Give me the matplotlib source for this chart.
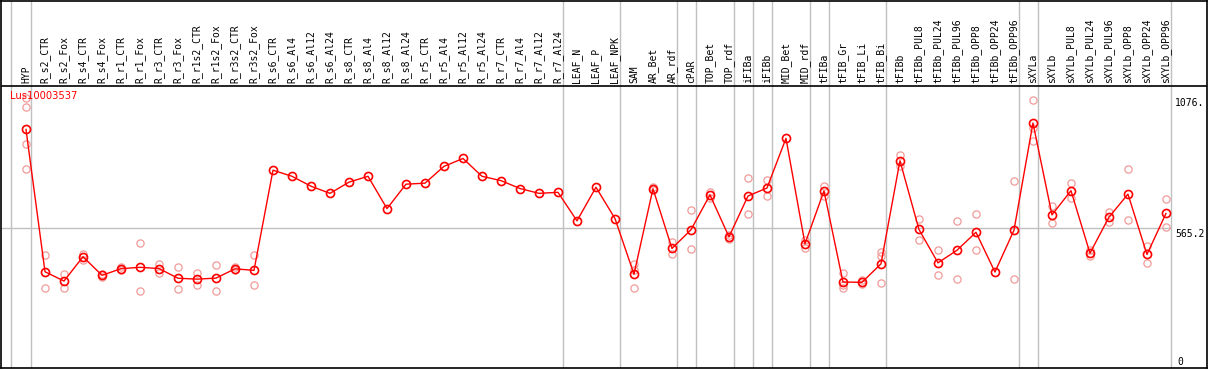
import numpy as np
import matplotlib
matplotlib.use("Agg")
import matplotlib.pyplot as plt
from matplotlib.transforms import blended_transform_factory

# ---------------- data ----------------
categories = [
    "HYP", "R_s2_CTR", "R_s2_Fox", "R_s4_CTR", "R_s4_Fox", "R_r1_CTR", "R_r1_Fox",
    "R_r3_CTR", "R_r3_Fox", "R_r1s2_CTR", "R_r1s2_Fox", "R_r3s2_CTR", "R_r3s2_Fox",
    "R_s6_CTR", "R_s6_Al4", "R_s6_Al12", "R_s6_Al24", "R_s8_CTR", "R_s8_Al4",
    "R_s8_Al12", "R_s8_Al24", "R_r5_CTR", "R_r5_Al4", "R_r5_Al12", "R_r5_Al24",
    "R_r7_CTR", "R_r7_Al4", "R_r7_Al12", "R_r7_Al24", "LEAF_N", "LEAF_P", "LEAF_NPK",
    "SAM", "AR_Bet", "AR_rdf", "cPAR", "TOP_Bet", "TOP_rdf", "iFIBa", "iFIBb",
    "MID_Bet", "MID_rdf", "tFIBa", "tFIB_Gr", "tFIB_Li", "tFIB_Bi", "tFIBb",
    "tFIBb_PUL8", "tFIBb_PUL24", "tFIBb_PUL96", "tFIBb_OPP8", "tFIBb_OPP24",
    "tFIBb_OPP96", "sXYLa", "sXYLb", "sXYLb_PUL8", "sXYLb_PUL24", "sXYLb_PUL96",
    "sXYLb_OPP8", "sXYLb_OPP24", "sXYLb_OPP96",
]

hyp_reps = [[1076, 1042, 894, 796]]
root_fox_reps = [
    [458, 328], [385, 328], [463, 441], [386, 372], [411, 399], [504, 317],
    [422, 389], [411, 324], [389, 339], [419, 317], [410, 399], [458, 339],
]
root_al_reps = [
    [792], [768], [729], [701], [745], [768], [641], [737],
    [741], [807], [838], [768], [751], [720], [701], [705],
]
leaf_reps = [[593], [725], [602]]
stem_reps = [
    [423, 399, 328], [725, 713], [508, 461], [635, 481], [707, 683], [538, 522],
    [763, 618], [752, 692], [917], [517, 488], [730, 691], [389, 341, 328],
    [360, 343], [471, 454, 347], [851, 807], [602, 516], [477, 379], [592, 363],
    [619, 477], [392], [749, 363],
]
xylem_reps = [
    [1069, 958, 905], [650, 583], [740, 683], [478, 454], [626, 589],
    [798, 598], [496, 426], [677, 567],
]

# indices after which a group separator is drawn
group_ends = [0, 28, 31, 34, 35, 37, 38, 39, 41, 42, 45, 52, 53, 60]

gene_id = "Lus10003537"
y_max_label = "1076."
y_mid_value = 565.2
y_mid_label = "565.2"
y_min_label = "0"

# ---------------- plot ----------------
replicates = hyp_reps + root_fox_reps + root_al_reps + leaf_reps + stem_reps + xylem_reps
x = np.arange(len(categories))
means = np.array([np.mean(r) for r in replicates])

W, H = 1209, 370
fig = plt.figure(figsize=(W / 100, H / 100), dpi=100)
ax = fig.add_axes([1 / W, 2 / H, 1206 / W, 367.5 / H])

ax.set_xlim(-1.316, 62.16)
ax.set_ylim(14.9, 1458.6)
ax.set_xticks([])
ax.set_yticks([])
for s in ax.spines.values():
    s.set_color("black")
    s.set_linewidth(1.2)

grey = "#c0c0c0"
# vertical separators (full height)
ax.axvline(-0.8, color=grey, lw=1, zorder=1)
for g in group_ends:
    ax.axvline(g + 0.24, color=grey, lw=1, zorder=1)

# header separator line
ax.axhline(1121.2, color="black", lw=1.2, zorder=2)

# horizontal reference line
ax.hlines(y_mid_value, -1.316, group_ends[-1] + 0.24, color=grey, lw=1, zorder=1)

# replicates
for xi, reps in zip(x, replicates):
    if len(reps) > 1:
        ax.plot([xi] * len(reps), reps, linestyle="none", marker="o",
                markersize=5.2, markerfacecolor="none",
                markeredgecolor="#f09a9a", markeredgewidth=0.9, zorder=3)

# mean line
ax.plot(x, means, color="#ff0000", lw=1.0, zorder=4)
ax.plot(x, means, linestyle="none", marker="o", markersize=5.8,
        markerfacecolor="none", markeredgecolor="#ff0000",
        markeredgewidth=1.2, zorder=5)

# header labels
trans = blended_transform_factory(ax.transData, ax.transAxes)
for xi, lab in zip(x, categories):
    ax.text(xi, (368 - 83) / 368, lab, rotation=90, ha="center", va="bottom",
            fontsize=7, family="DejaVu Sans Mono", color="black",
            transform=trans)

# gene id
ax.text(9 / 1206, (368 - 91) / 368, gene_id, ha="left", va="top",
        fontsize=7.2, family="DejaVu Sans", color="#ff0000",
        transform=ax.transAxes, zorder=6)

# y labels
ylab_x = (1175 - 1) / 1206
ax.text(ylab_x, (368 - 98) / 368, y_max_label, ha="left", va="top",
        fontsize=7, family="DejaVu Sans Mono", transform=ax.transAxes)
ax.text(ylab_x, (368 - 228.5) / 368, y_mid_label, ha="left", va="top",
        fontsize=7, family="DejaVu Sans Mono", transform=ax.transAxes)
ax.text(ylab_x + 2 / 1206, (368 - 357) / 368, y_min_label, ha="left", va="top",
        fontsize=7, family="DejaVu Sans Mono", transform=ax.transAxes)

fig.savefig("out.png", dpi=100, facecolor="white")
